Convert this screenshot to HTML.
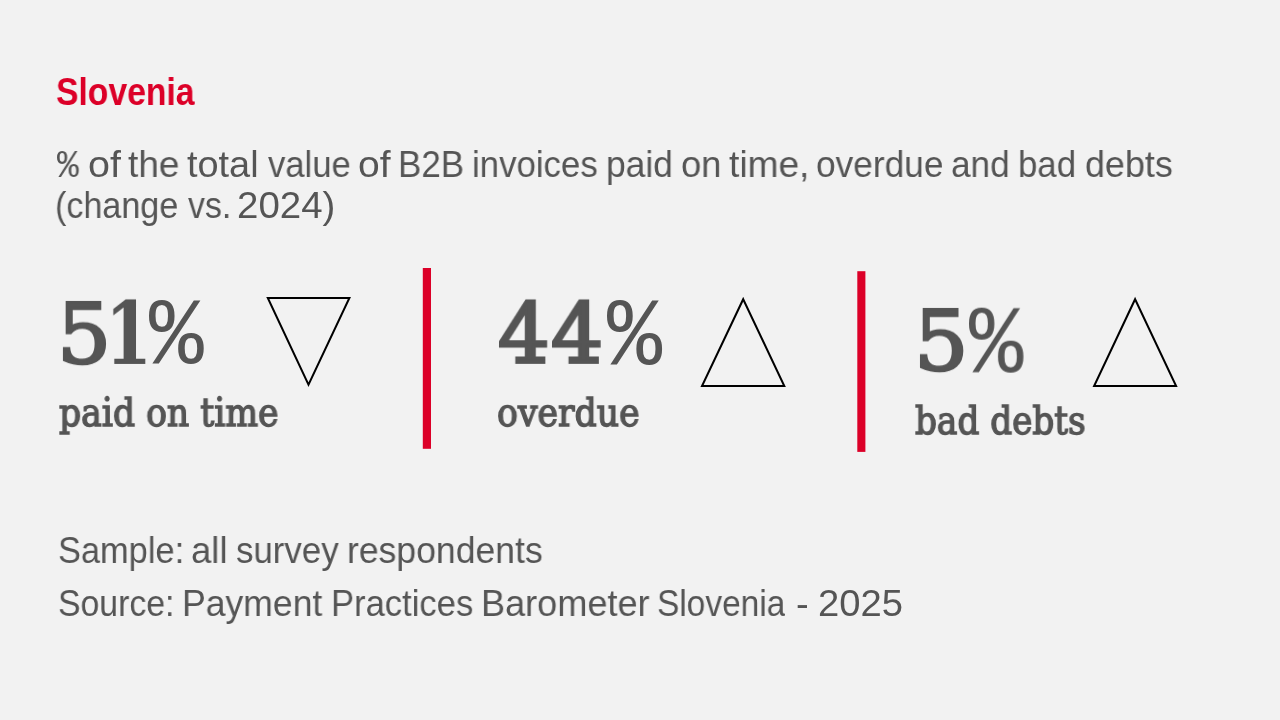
<!DOCTYPE html>
<html lang="en"><head><meta charset="utf-8"><title>Slovenia – Payment Practices Barometer 2025</title>
<style>
html,body{margin:0;padding:0;}
body{width:1280px;height:720px;background:#f2f2f2;position:relative;overflow:hidden;}
.l{position:absolute;left:0;top:0;font-size:0;line-height:0;white-space:nowrap;margin:0;font-weight:normal;}
.w{display:inline-block;position:relative;width:0;vertical-align:top;white-space:pre;line-height:1;transform-origin:0 0;will-change:transform;}
svg{position:absolute;left:0;top:0;}
</style></head><body>
<h1 class="l"><span class="w" style="left:55.51px;top:71.75px;font-family:'Liberation Sans', sans-serif;font-weight:bold;font-size:39.5px;color:#dc0028;transform:scaleX(0.8525);">Slovenia</span></h1>
<p class="l"><span class="w" style="left:56.50px;top:148.33px;font-family:'Liberation Mono', monospace;font-weight:normal;font-size:37.5px;color:#555555;transform:scale(0.9670,1.0186);">%</span> <span class="w" style="left:87.81px;top:145.86px;font-family:'Liberation Sans', sans-serif;font-weight:normal;font-size:37.5px;color:#555555;transform:scaleX(1.0509);">of</span> <span class="w" style="left:128.45px;top:146.40px;font-family:'Liberation Sans', sans-serif;font-weight:normal;font-size:37.5px;color:#555555;transform:scaleX(0.9865);">the</span> <span class="w" style="left:187.31px;top:145.80px;font-family:'Liberation Sans', sans-serif;font-weight:normal;font-size:37.5px;color:#555555;transform:scaleX(1.0103);">total</span> <span class="w" style="left:267.91px;top:146.40px;font-family:'Liberation Sans', sans-serif;font-weight:normal;font-size:37.5px;color:#555555;transform:scaleX(0.9234);">value</span> <span class="w" style="left:357.92px;top:145.80px;font-family:'Liberation Sans', sans-serif;font-weight:normal;font-size:37.5px;color:#555555;transform:scaleX(1.0405);">of</span> <span class="w" style="left:397.80px;top:146.20px;font-family:'Liberation Sans', sans-serif;font-weight:normal;font-size:37.5px;color:#555555;transform:scaleX(0.9341);">B2B</span> <span class="w" style="left:471.60px;top:146.40px;font-family:'Liberation Sans', sans-serif;font-weight:normal;font-size:37.5px;color:#555555;transform:scaleX(0.9283);">invoices</span> <span class="w" style="left:606.21px;top:146.20px;font-family:'Liberation Sans', sans-serif;font-weight:normal;font-size:37.5px;color:#555555;transform:scaleX(0.9439);">paid</span> <span class="w" style="left:681.23px;top:145.80px;font-family:'Liberation Sans', sans-serif;font-weight:normal;font-size:37.5px;color:#555555;transform:scaleX(0.9708);">on</span> <span class="w" style="left:729.01px;top:146.20px;font-family:'Liberation Sans', sans-serif;font-weight:normal;font-size:37.5px;color:#555555;transform:scaleX(0.9903);">time,</span> <span class="w" style="left:815.87px;top:146.20px;font-family:'Liberation Sans', sans-serif;font-weight:normal;font-size:37.5px;color:#555555;transform:scaleX(0.9405);">overdue</span> <span class="w" style="left:951.33px;top:145.94px;font-family:'Liberation Sans', sans-serif;font-weight:normal;font-size:37.5px;color:#555555;transform:scaleX(0.9379);">and</span> <span class="w" style="left:1018.07px;top:146.40px;font-family:'Liberation Sans', sans-serif;font-weight:normal;font-size:37.5px;color:#555555;transform:scaleX(0.9280);">bad</span> <span class="w" style="left:1084.97px;top:146.40px;font-family:'Liberation Sans', sans-serif;font-weight:normal;font-size:37.5px;color:#555555;transform:scaleX(0.9575);">debts</span></p>
<p class="l"><span class="w" style="left:55.08px;top:187.00px;font-family:'Liberation Sans', sans-serif;font-weight:normal;font-size:37.5px;color:#555555;transform:scaleX(0.9091);">(change</span> <span class="w" style="left:187.71px;top:187.00px;font-family:'Liberation Sans', sans-serif;font-weight:normal;font-size:37.5px;color:#555555;transform:scaleX(0.9036);">vs.</span> <span class="w" style="left:237.30px;top:187.00px;font-family:'Liberation Sans', sans-serif;font-weight:normal;font-size:37.5px;color:#555555;transform:scaleX(1.0257);">2024)</span></p>
<div class="l"><span class="w" style="left:56.73px;top:292.59px;font-family:'DejaVu Serif', serif;font-weight:normal;font-size:84px;color:#555555;-webkit-text-stroke:2.6px #555555;transform:scale(1.0162,0.9875);">5</span><span class="w" style="left:104.79px;top:291.18px;font-family:'DejaVu Serif', serif;font-weight:bold;font-size:87.2px;color:#555555;transform:scale(0.7756,0.9850);">1</span><span class="w" style="left:148.89px;top:289.95px;font-family:'Liberation Mono', monospace;font-weight:normal;font-size:91px;color:#555555;transform:scale(1.0007,1.0392);">%</span></div>
<div class="l"><span class="w" style="left:58.80px;top:391.80px;font-family:'DejaVu Serif Condensed', 'DejaVu Serif', serif;font-weight:normal;font-size:40px;color:#555555;-webkit-text-stroke:1.4px #555555;transform:scaleX(0.9626);">paid on time</span></div>
<div class="l"><span class="w" style="left:497.73px;top:292.91px;font-family:'DejaVu Serif', serif;font-weight:normal;font-size:84px;color:#555555;-webkit-text-stroke:3.2px #555555;transform:scale(0.9660,0.9838);">4</span><span class="w" style="left:551.32px;top:292.91px;font-family:'DejaVu Serif', serif;font-weight:normal;font-size:84px;color:#555555;-webkit-text-stroke:3.2px #555555;transform:scale(0.9760,0.9838);">4</span><span class="w" style="left:606.59px;top:290.19px;font-family:'Liberation Mono', monospace;font-weight:normal;font-size:91px;color:#555555;transform:scale(1.0083,1.0520);">%</span></div>
<div class="l"><span class="w" style="left:496.79px;top:392.00px;font-family:'DejaVu Serif Condensed', 'DejaVu Serif', serif;font-weight:normal;font-size:40px;color:#555555;-webkit-text-stroke:1.4px #555555;transform:scaleX(0.9634);">overdue</span></div>
<div class="l"><span class="w" style="left:913.74px;top:299.98px;font-family:'DejaVu Serif', serif;font-weight:normal;font-size:84px;color:#555555;-webkit-text-stroke:2.6px #555555;transform:scale(1.0219,0.9876);">5</span><span class="w" style="left:969.43px;top:297.79px;font-family:'Liberation Mono', monospace;font-weight:normal;font-size:91px;color:#555555;transform:scale(0.9943,1.0582);">%</span></div>
<div class="l"><span class="w" style="left:915.48px;top:400.43px;font-family:'DejaVu Serif Condensed', 'DejaVu Serif', serif;font-weight:normal;font-size:40px;color:#555555;-webkit-text-stroke:1.4px #555555;transform:scaleX(0.9523);">bad debts</span></div>
<p class="l"><span class="w" style="left:57.74px;top:532.00px;font-family:'Liberation Sans', sans-serif;font-weight:normal;font-size:37.5px;color:#555555;transform:scaleX(0.9170);">Sample:</span> <span class="w" style="left:191.10px;top:532.00px;font-family:'Liberation Sans', sans-serif;font-weight:normal;font-size:37.5px;color:#555555;transform:scaleX(0.9736);">all</span> <span class="w" style="left:236.34px;top:532.00px;font-family:'Liberation Sans', sans-serif;font-weight:normal;font-size:37.5px;color:#555555;transform:scaleX(0.9298);">survey</span> <span class="w" style="left:346.56px;top:532.00px;font-family:'Liberation Sans', sans-serif;font-weight:normal;font-size:37.5px;color:#555555;transform:scaleX(0.9481);">respondents</span></p>
<p class="l"><span class="w" style="left:57.83px;top:585.41px;font-family:'Liberation Sans', sans-serif;font-weight:normal;font-size:37.5px;color:#555555;transform:scaleX(0.9010);">Source:</span> <span class="w" style="left:181.53px;top:585.30px;font-family:'Liberation Sans', sans-serif;font-weight:normal;font-size:37.5px;color:#555555;transform:scaleX(0.9485);">Payment</span> <span class="w" style="left:330.73px;top:585.10px;font-family:'Liberation Sans', sans-serif;font-weight:normal;font-size:37.5px;color:#555555;transform:scaleX(0.9227);">Practices</span> <span class="w" style="left:480.61px;top:585.20px;font-family:'Liberation Sans', sans-serif;font-weight:normal;font-size:37.5px;color:#555555;transform:scaleX(0.9632);">Barometer</span> <span class="w" style="left:656.98px;top:585.47px;font-family:'Liberation Sans', sans-serif;font-weight:normal;font-size:37.5px;color:#555555;transform:scaleX(0.8920);">Slovenia</span> <span class="w" style="left:796.07px;top:585.10px;font-family:'Liberation Sans', sans-serif;font-weight:normal;font-size:37.5px;color:#555555;transform:scaleX(1.0167);">-</span> <span class="w" style="left:817.71px;top:585.10px;font-family:'Liberation Sans', sans-serif;font-weight:normal;font-size:37.5px;color:#555555;transform:scaleX(1.0181);">2025</span></p>
<svg width="1280" height="720" viewBox="0 0 1280 720" aria-hidden="true"><g fill='#dc0028'><rect x='422.8' y='268' width='8.2' height='180.8'/><rect x='857.3' y='271.2' width='8.1' height='180.7'/></g><g fill='none' stroke='#000' stroke-width='2'><polygon points='267.8,297.9 349.4,297.9 308.5,384.7'/><polygon points='743.2,299.2 784.3,386 702,386'/><polygon points='1135.1,299.2 1176.1,386 1094.1,386'/></g></svg>
</body></html>
